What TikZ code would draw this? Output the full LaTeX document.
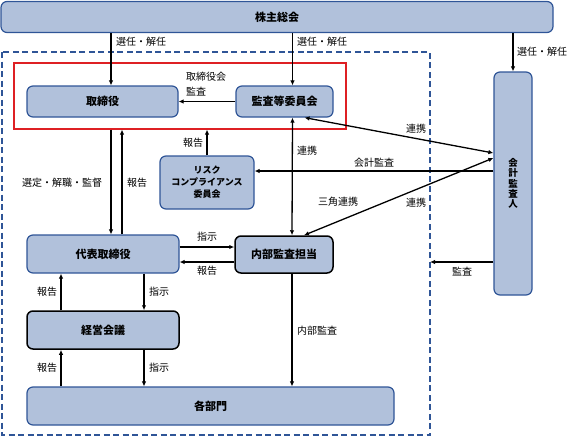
\documentclass[tikz,border=0pt]{standalone}
\usepackage{fontspec}
\setmainfont{Noto Sans CJK JP}
\usetikzlibrary{arrows.meta,positioning}
\definecolor{boxfill}{RGB}{177,193,219}
\definecolor{boxline}{RGB}{47,85,151}
\definecolor{grpred}{RGB}{222,32,36}
\tikzset{>={Latex[length=5pt,width=4.5pt]}}

\begin{document}
\begin{tikzpicture}[x=1pt,y=-1pt,
    unit/.style={draw=boxline,fill=boxfill,rounded corners=6pt,line width=1.2pt,
      inner sep=0pt,font=\fontsize{11}{13}\selectfont\bfseries},
    keyunit/.style={unit,draw=black,line width=1.5pt},
    lbl/.style={inner sep=0pt,font=\fontsize{10}{11}\selectfont},
    flow/.style={->,line width=1.3pt},
    twoway/.style={<->,line width=1.3pt}]
    \useasboundingbox (0,0) rectangle (570,437);

    % outer frame and board group
    \draw [boxline,line width=1.2pt,dash pattern=on 6pt off 3.5pt] (2,52) rectangle (430,435);
    \node [draw=grpred,line width=1.2pt,minimum width=332,minimum height=66,inner sep=0pt] (boardgrp) at (180,96) {};

    % units
    \node [unit,minimum width=552,minimum height=31] (meeting) at (277,17) {株主総会};
    \node [unit,minimum width=151,minimum height=31] (board) at (102.5,101.5) {取締役};
    \node [unit,minimum width=97,minimum height=31] (auditcom) at (284.5,101.5) {監査等委員会};
    \node [unit,minimum width=94,minimum height=53,align=center,
      font=\fontsize{9}{12}\selectfont\bfseries] (risk) at (207,182.5) {リスク\\コンプライアンス\\委員会};
    \node [unit,minimum width=152,minimum height=38] (ceo) at (103,254) {代表取締役};
    \node [keyunit,minimum width=98,minimum height=37] (internal) at (284,254.5) {内部監査担当};
    \node [keyunit,minimum width=152,minimum height=38] (mgmt) at (103,330) {経営会議};
    \node [unit,minimum width=367,minimum height=38] (depts) at (210.5,406) {各部門};
    \node [unit,minimum width=38,minimum height=223,align=center,
      font=\fontsize{9.5}{10.4}\selectfont\bfseries] (accountant) at (513,183.5) {会\\計\\監\\査\\人};
    \coordinate (frameedge) at (430,262);

    % election
    \draw [flow] (meeting.south -| 111,0) -- (board.north -| 111,0);
    \node [lbl,anchor=west] (elect1) at (116,42) {選任・解任};
    \draw [flow] (meeting.south -| auditcom.north) ++(8,0) -- ([xshift=8]auditcom.north);
    \node [lbl,anchor=west] (elect2) at (297,42) {選任・解任};
    \draw [flow] (meeting.south -| accountant.north) -- (accountant.north);
    \node [lbl,anchor=west] (elect3) at (517,52) {選任・解任};

    % board group
    \draw [flow] (auditcom.west) -- (board.east);
    \node [lbl,anchor=north west,align=left,font=\fontsize{10}{15}\selectfont] (audlbl) at (186,72) {取締役会\\監査};
    \draw [flow] (boardgrp.south -| 111,0) -- (ceo.north -| 111,0);
    \node [lbl,anchor=west] (selectlbl) at (22,183) {選定・解職・監督};
    \draw [flow] (ceo.north -| 122,0) -- (boardgrp.south -| 122,0);
    \node [lbl,anchor=west] (rep1) at (127,183) {報告};
    \draw [flow] (risk.north) -- (boardgrp.south -| risk.north);
    \node [lbl] (rep2) at (193,143) {報告};

    % cooperation
    \draw [twoway] ([xshift=20]auditcom.south) -- (accountant.west |- 0,153);
    \node [lbl] (coop1) at (416,129) {連携};
    \draw [twoway] ([xshift=8]auditcom.south) -- ([xshift=8]internal.north);
    \node [lbl,anchor=west] (coop2) at (297,151) {連携};
    \draw [flow] (accountant.west |- 0,171) -- (risk.east |- 0,171);
    \node [lbl] (acclbl) at (374,163) {会計監査};
    \draw [twoway] (accountant.west |- 0,158) -- ([xshift=20]internal.north);
    \node [lbl] (tri) at (338,202) {三角連携};
    \node [lbl] (coop3) at (416,203) {連携};
    \draw [flow] (accountant.west |- frameedge) -- (frameedge);
    \node [lbl] (audit2) at (462,272) {監査};

    % execution
    \draw [flow] (ceo.east |- 0,247) -- (internal.west |- 0,247);
    \node [lbl] (ins1) at (207,237) {指示};
    \draw [flow] (internal.west |- 0,262) -- (ceo.east |- 0,262);
    \node [lbl] (rep3) at (207,271) {報告};
    \draw [flow] (mgmt.north -| 61,0) -- (ceo.south -| 61,0);
    \node [lbl] (rep4) at (47,292) {報告};
    \draw [flow] (ceo.south -| 144,0) -- (mgmt.north -| 144,0);
    \node [lbl] (ins2) at (159,292) {指示};
    \draw [flow] (depts.north -| 61,0) -- (mgmt.south -| 61,0);
    \node [lbl] (rep5) at (47,368) {報告};
    \draw [flow] (mgmt.south -| 144,0) -- (depts.north -| 144,0);
    \node [lbl] (ins3) at (159,368) {指示};
    \draw [flow] ([xshift=8]internal.south) -- (depts.north -| 292,0);
    \node [lbl,anchor=west] (intlbl) at (297,331) {内部監査};
\end{tikzpicture}
\end{document}
